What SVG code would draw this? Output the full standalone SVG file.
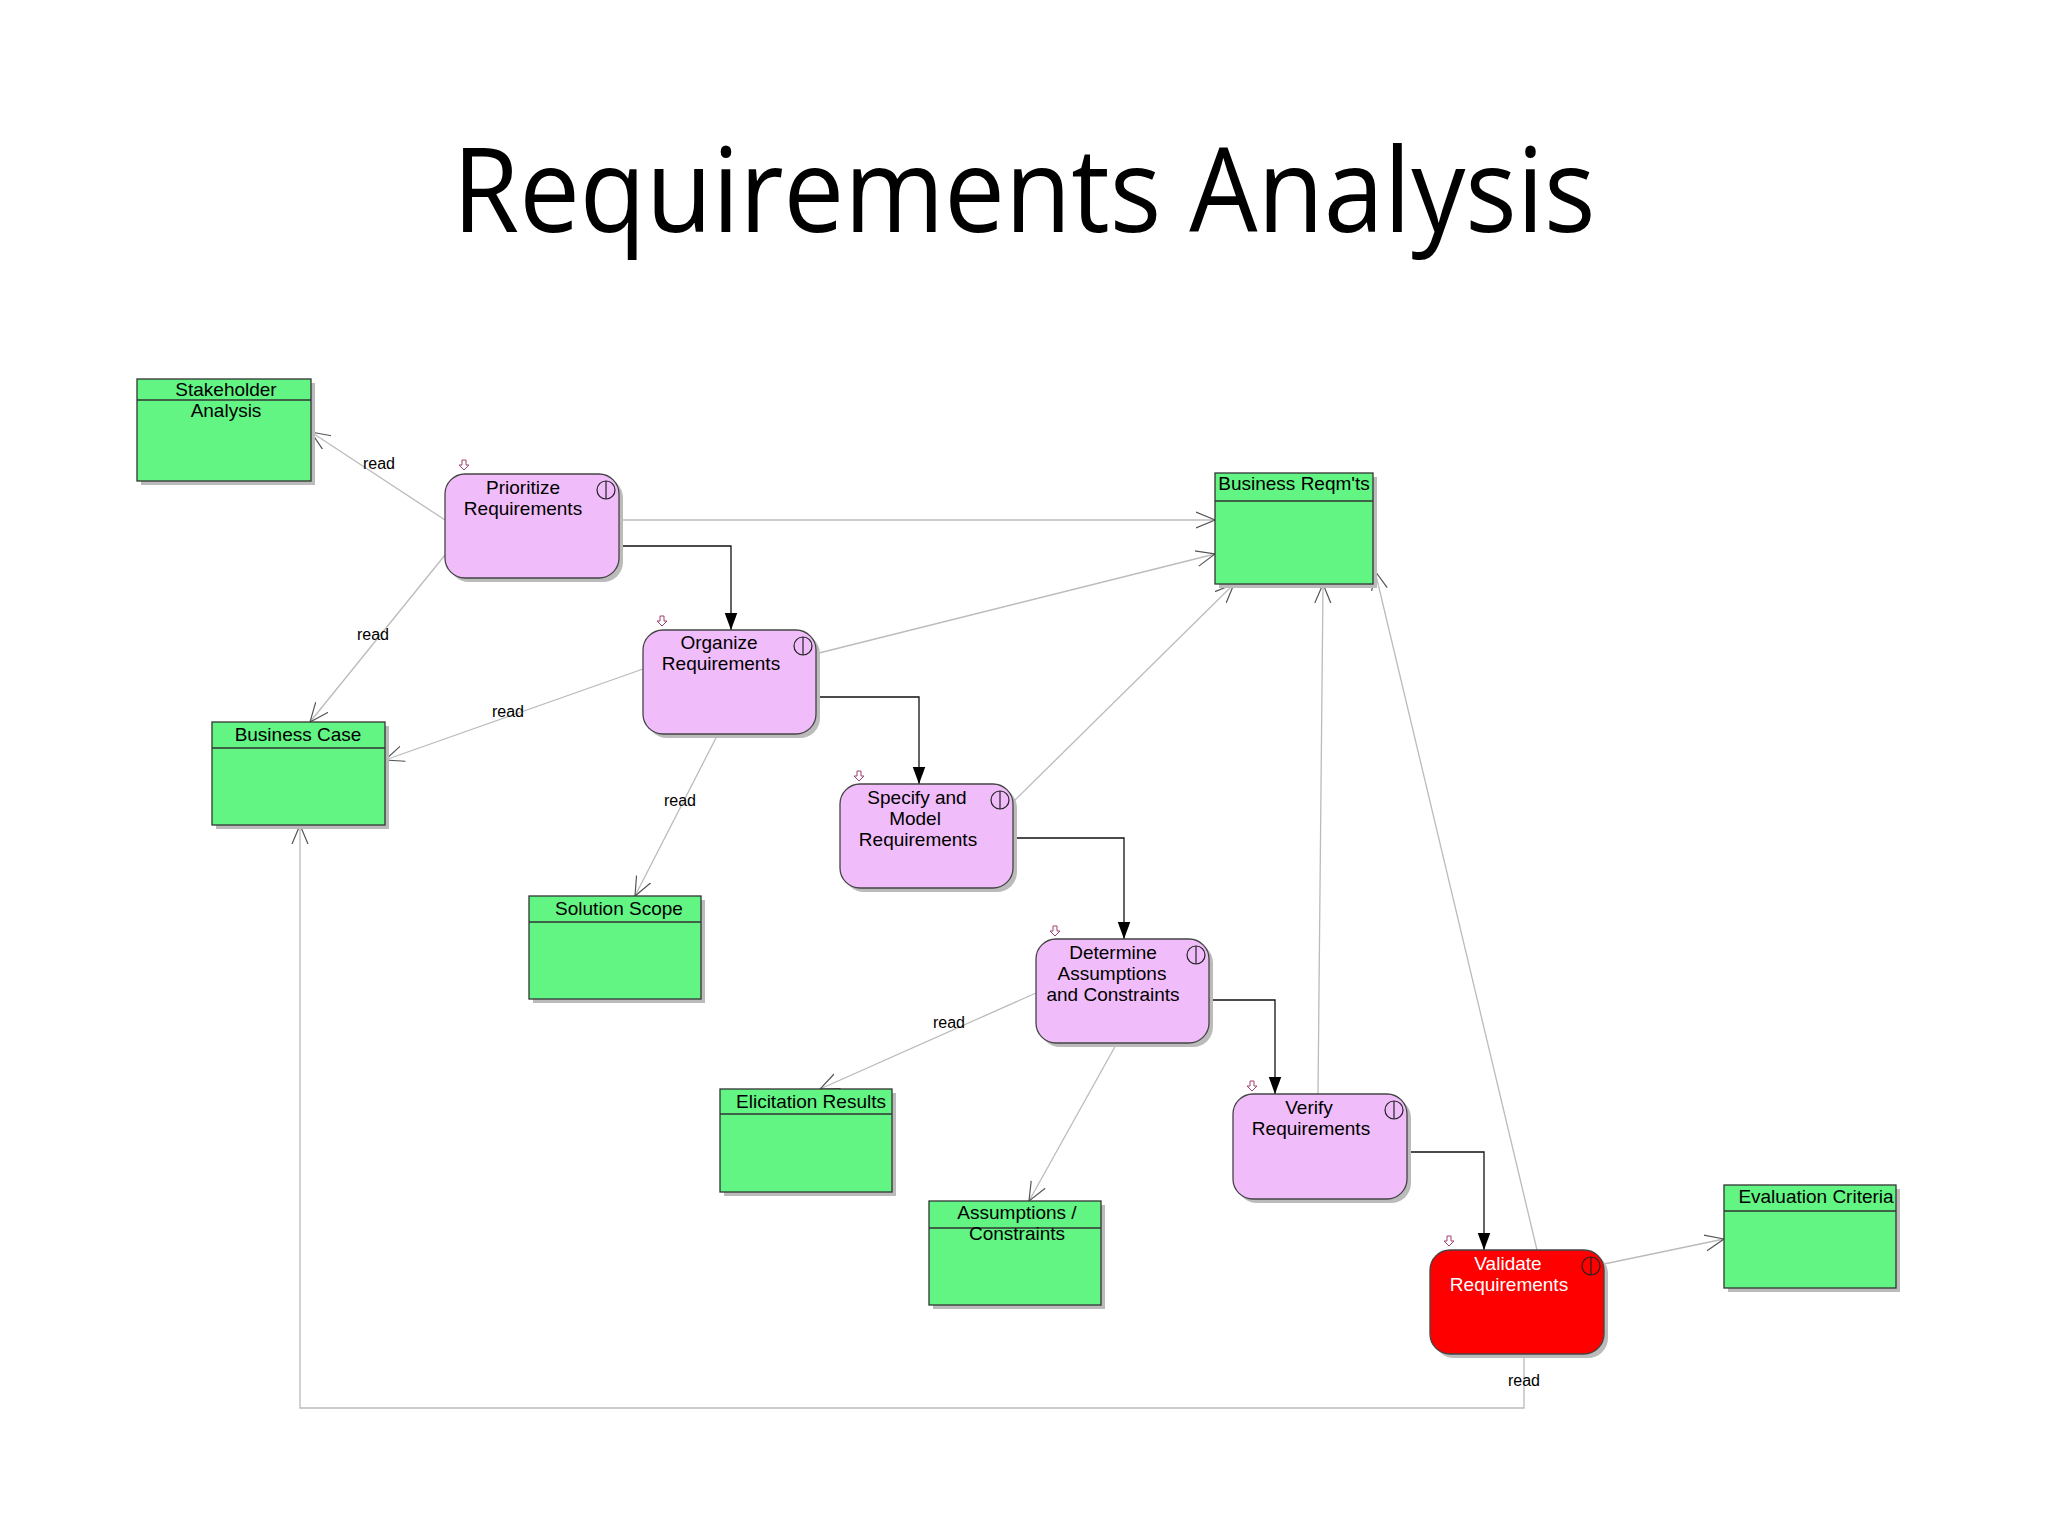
<svg xmlns="http://www.w3.org/2000/svg" width="2048" height="1536" viewBox="0 0 2048 1536">
<style>
.t{font-family:"Liberation Sans",Arial,sans-serif;font-size:19px;fill:#000;text-anchor:middle}
.lb{font-family:"Liberation Sans",Arial,sans-serif;font-size:16px;fill:#000;text-anchor:middle}
.art{fill:#62f584;stroke:#333;stroke-width:1.3}
.act{fill:#f0bdfa;stroke:#444;stroke-width:1.3}
.sh{fill:#bbb}
.g{fill:none;stroke:#bbb;stroke-width:1.3}
.k{fill:none;stroke:#111;stroke-width:1.3}
.ic{fill:none;stroke:#222;stroke-width:1.2}
.dn{fill:#fff;stroke:#a04070;stroke-width:1}
</style>
<defs>
<marker id="o" viewBox="0 0 20 20" refX="19" refY="10" markerWidth="20" markerHeight="20" markerUnits="userSpaceOnUse" orient="auto"><path d="M0,2 L19,10 L0,18" fill="none" stroke="#555" stroke-width="1.2"/></marker>
<marker id="f" viewBox="0 0 20 20" refX="19" refY="10" markerWidth="18" markerHeight="18" markerUnits="userSpaceOnUse" orient="auto"><path d="M0,3 L19,10 L0,17 Z" fill="#000"/></marker>
</defs>
<rect width="2048" height="1536" fill="#fff"/>
<text x="1024" y="232" font-family="'Open Sans','Liberation Sans',sans-serif" font-size="118" text-anchor="middle" textLength="1143" lengthAdjust="spacingAndGlyphs">Requirements Analysis</text>
<g id="connectors">
<path class="g" d="M445,520 L311,432" marker-end="url(#o)"/>
<path class="g" d="M445,555 L310,722" marker-end="url(#o)"/>
<path class="g" d="M619,520 L1215,520" marker-end="url(#o)"/>
<path class="k" d="M619,546 L731,546 L731,630" marker-end="url(#f)"/>
<path class="g" d="M643,669 L385,760" marker-end="url(#o)"/>
<path class="g" d="M819,653 L1215,554" marker-end="url(#o)"/>
<path class="g" d="M718,734 L635,896" marker-end="url(#o)"/>
<path class="k" d="M816,697 L919,697 L919,784" marker-end="url(#f)"/>
<path class="g" d="M1013,802 L1234,584" marker-end="url(#o)"/>
<path class="k" d="M1013,838 L1124,838 L1124,939" marker-end="url(#f)"/>
<path class="g" d="M1036,993 L820,1089" marker-end="url(#o)"/>
<path class="g" d="M1117,1043 L1029,1201" marker-end="url(#o)"/>
<path class="k" d="M1209,1000 L1275,1000 L1275,1094" marker-end="url(#f)"/>
<path class="g" d="M1318,1094 L1323,584" marker-end="url(#o)"/>
<path class="k" d="M1407,1152 L1484,1152 L1484,1250" marker-end="url(#f)"/>
<path class="g" d="M1537,1250 L1375,571" marker-end="url(#o)"/>
<path class="g" d="M1604,1264 L1724,1239" marker-end="url(#o)"/>
<path class="g" d="M1524,1354 L1524,1408 L300,1408 L300,825" marker-end="url(#o)"/>
<text class="lb" x="379" y="469">read</text>
<text class="lb" x="373" y="640">read</text>
<text class="lb" x="508" y="717">read</text>
<text class="lb" x="680" y="806">read</text>
<text class="lb" x="949" y="1028">read</text>
<text class="lb" x="1524" y="1386">read</text>
</g>
<g id="stakeholder"><rect class="sh" x="141" y="383" width="174" height="102"/><rect class="art" x="137" y="379" width="174" height="102"/><line class="art" x1="137" y1="400" x2="311" y2="400"/><text class="t" x="226" y="396">Stakeholder</text><text class="t" x="226" y="417">Analysis</text></g>
<g id="busreq"><rect class="sh" x="1219" y="477" width="158" height="111"/><rect class="art" x="1215" y="473" width="158" height="111"/><line class="art" x1="1215" y1="501" x2="1373" y2="501"/><text class="t" x="1294" y="490">Business Reqm'ts</text></g>
<g id="buscase"><rect class="sh" x="216" y="726" width="173" height="103"/><rect class="art" x="212" y="722" width="173" height="103"/><line class="art" x1="212" y1="748" x2="385" y2="748"/><text class="t" x="298" y="741">Business Case</text></g>
<g id="scope"><rect class="sh" x="533" y="900" width="172" height="103"/><rect class="art" x="529" y="896" width="172" height="103"/><line class="art" x1="529" y1="922" x2="701" y2="922"/><text class="t" x="619" y="915">Solution Scope</text></g>
<g id="elicit"><rect class="sh" x="724" y="1093" width="172" height="103"/><rect class="art" x="720" y="1089" width="172" height="103"/><line class="art" x1="720" y1="1114" x2="892" y2="1114"/><text class="t" x="811" y="1108">Elicitation Results</text></g>
<g id="assump"><rect class="sh" x="933" y="1205" width="172" height="104"/><rect class="art" x="929" y="1201" width="172" height="104"/><line class="art" x1="929" y1="1228" x2="1101" y2="1228"/><text class="t" x="1017" y="1219">Assumptions /</text><text class="t" x="1017" y="1240">Constraints</text></g>
<g id="evalc"><rect class="sh" x="1728" y="1189" width="172" height="103"/><rect class="art" x="1724" y="1185" width="172" height="103"/><line class="art" x1="1724" y1="1211" x2="1896" y2="1211"/><text class="t" x="1816" y="1203">Evaluation Criteria</text></g>
<g id="prioritize"><rect class="sh" x="449" y="478" width="174" height="104" rx="20"/><rect class="act" x="445" y="474" width="174" height="104" rx="20"/><circle class="ic" cx="606" cy="490" r="9"/><line class="ic" x1="606" y1="481" x2="606" y2="499"/><path class="dn" d="M462,460 h4 v5 h3 l-5,5 l-5,-5 h3 z"/><text class="t" x="523" y="494">Prioritize</text><text class="t" x="523" y="515">Requirements</text></g>
<g id="organize"><rect class="sh" x="647" y="634" width="173" height="104" rx="20"/><rect class="act" x="643" y="630" width="173" height="104" rx="20"/><circle class="ic" cx="803" cy="646" r="9"/><line class="ic" x1="803" y1="637" x2="803" y2="655"/><path class="dn" d="M660,616 h4 v5 h3 l-5,5 l-5,-5 h3 z"/><text class="t" x="719" y="649">Organize</text><text class="t" x="721" y="670">Requirements</text></g>
<g id="specify"><rect class="sh" x="844" y="788" width="173" height="104" rx="20"/><rect class="act" x="840" y="784" width="173" height="104" rx="20"/><circle class="ic" cx="1000" cy="800" r="9"/><line class="ic" x1="1000" y1="791" x2="1000" y2="809"/><path class="dn" d="M857,771 h4 v5 h3 l-5,5 l-5,-5 h3 z"/><text class="t" x="917" y="804">Specify and</text><text class="t" x="915" y="825">Model</text><text class="t" x="918" y="846">Requirements</text></g>
<g id="determine"><rect class="sh" x="1040" y="943" width="173" height="104" rx="20"/><rect class="act" x="1036" y="939" width="173" height="104" rx="20"/><circle class="ic" cx="1196" cy="955" r="9"/><line class="ic" x1="1196" y1="946" x2="1196" y2="964"/><path class="dn" d="M1053,926 h4 v5 h3 l-5,5 l-5,-5 h3 z"/><text class="t" x="1113" y="959">Determine</text><text class="t" x="1112" y="980">Assumptions</text><text class="t" x="1113" y="1001">and Constraints</text></g>
<g id="verify"><rect class="sh" x="1237" y="1098" width="174" height="105" rx="20"/><rect class="act" x="1233" y="1094" width="174" height="105" rx="20"/><circle class="ic" cx="1394" cy="1110" r="9"/><line class="ic" x1="1394" y1="1101" x2="1394" y2="1119"/><path class="dn" d="M1250,1081 h4 v5 h3 l-5,5 l-5,-5 h3 z"/><text class="t" x="1309" y="1114">Verify</text><text class="t" x="1311" y="1135">Requirements</text></g>
<g id="validate"><rect class="sh" x="1434" y="1254" width="174" height="104" rx="20"/><rect x="1430" y="1250" width="174" height="104" rx="20" fill="#fe0000" stroke="#444" stroke-width="1.3"/><circle class="ic" cx="1591" cy="1266" r="9"/><line class="ic" x1="1591" y1="1257" x2="1591" y2="1275"/><path class="dn" d="M1447,1236 h4 v5 h3 l-5,5 l-5,-5 h3 z"/><text class="t" x="1508" y="1270" fill="#fff" style="fill:#fff">Validate</text><text class="t" x="1509" y="1291" style="fill:#fff">Requirements</text></g>
</svg>
